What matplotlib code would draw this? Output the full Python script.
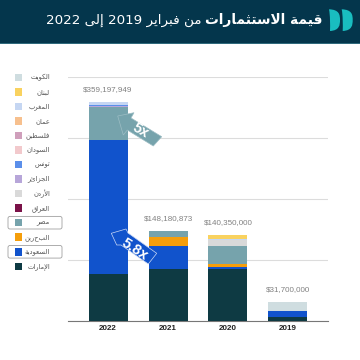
import matplotlib
matplotlib.use("Agg")
import matplotlib.pyplot as plt
from matplotlib.patches import Rectangle, FancyBboxPatch, Polygon, PathPatch
from matplotlib.path import Path

ARABIC_FAMILY = ['DejaVu Sans']
plt.rcParams['font.family'] = ['DejaVu Sans', 'Liberation Sans']

# (isolated, final, initial, medial); two entries = joins only to the previous letter
FORMS = {
    'ا': (0xFE8D, 0xFE8E), 'أ': (0xFE83, 0xFE84), 'إ': (0xFE87, 0xFE88),
    'د': (0xFEA9, 0xFEAA), 'ر': (0xFEAD, 0xFEAE), 'ز': (0xFEAF, 0xFEB0),
    'و': (0xFEED, 0xFEEE), 'ة': (0xFE93, 0xFE94), 'ى': (0xFEEF, 0xFEF0),
    'ب': (0xFE8F, 0xFE90, 0xFE91, 0xFE92), 'ت': (0xFE95, 0xFE96, 0xFE97, 0xFE98),
    'ث': (0xFE99, 0xFE9A, 0xFE9B, 0xFE9C), 'ج': (0xFE9D, 0xFE9E, 0xFE9F, 0xFEA0),
    'س': (0xFEB1, 0xFEB2, 0xFEB3, 0xFEB4), 'ط': (0xFEC1, 0xFEC2, 0xFEC3, 0xFEC4),
    'ص': (0xFEB9, 0xFEBA, 0xFEBB, 0xFEBC),
    'ع': (0xFEC9, 0xFECA, 0xFECB, 0xFECC), 'غ': (0xFECD, 0xFECE, 0xFECF, 0xFED0),
    'ف': (0xFED1, 0xFED2, 0xFED3, 0xFED4), 'ق': (0xFED5, 0xFED6, 0xFED7, 0xFED8),
    'ك': (0xFED9, 0xFEDA, 0xFEDB, 0xFEDC), 'ل': (0xFEDD, 0xFEDE, 0xFEDF, 0xFEE0),
    'م': (0xFEE1, 0xFEE2, 0xFEE3, 0xFEE4), 'ن': (0xFEE5, 0xFEE6, 0xFEE7, 0xFEE8),
    'ه': (0xFEE9, 0xFEEA, 0xFEEB, 0xFEEC), 'ي': (0xFEF1, 0xFEF2, 0xFEF3, 0xFEF4),
}
LAM_ALEF = {'ا': (0xFEFB, 0xFEFC), 'أ': (0xFEF7, 0xFEF8), 'إ': (0xFEF9, 0xFEFA)}


def shape_word(word):
    out, i, prev_joins = [], 0, False
    while i < len(word):
        ch = word[i]
        if ch == 'ل' and i + 1 < len(word) and word[i + 1] in LAM_ALEF:
            out.append(chr(LAM_ALEF[word[i + 1]][1 if prev_joins else 0]))
            prev_joins = False
            i += 2
            continue
        forms = FORMS.get(ch)
        if forms is None:
            out.append(ch)
            prev_joins = False
            i += 1
            continue
        nxt = word[i + 1] if i + 1 < len(word) else None
        next_joins = len(forms) == 4 and nxt in FORMS
        if prev_joins and next_joins:
            g = forms[3]
        elif prev_joins:
            g = forms[1]
        elif next_joins:
            g = forms[2]
        else:
            g = forms[0]
        out.append(chr(g))
        prev_joins = next_joins
        i += 1
    return ''.join(reversed(out))


def ar(text):
    words = [w if w.isdigit() else shape_word(w) for w in text.split(' ')]
    return ' '.join(reversed(words))


years = ['2022', '2021', '2020', '2019']
totals = ['$359,197,949', '$148,180,873', '$140,350,000', '$31,700,000']
countries = ['الإمارات', 'السعودية', 'البحرين', 'مصر', 'العراق', 'الأردن', 'الجزائر',
             'تونس', 'السودان', 'فلسطين', 'عمان', 'المغرب', 'لبنان', 'الكويت']
colors = ['#0E3A43', '#1153CC', '#F59E0B', '#76A3AC', '#7A1248', '#D9D9D9', '#B7A6D9',
          '#5B8FEA', '#F2C9CC', '#CF9FBB', '#F7C08E', '#C5D6F2', '#F9D25F', '#CFDDE0']
# values in millions of USD, stacked bottom to top
values = {
    'الإمارات': [77, 85, 85.7, 7.3],
    'السعودية': [219.7, 38.4, 2.3, 8.7],
    'البحرين':  [0, 14.3, 5.4, 0],
    'مصر':      [54.1, 10.3, 30, 0],
    'العراق':   [0, 0, 0, 0],
    'الأردن':   [0, 0, 10, 0],
    'الجزائر':  [1.2, 0, 0, 0],
    'تونس':     [2, 0, 0, 0],
    'السودان':  [0, 0, 0, 0],
    'فلسطين':   [0, 0, 0, 0],
    'عمان':     [0, 0, 0, 0],
    'المغرب':   [5.2, 0, 1.5, 0],
    'لبنان':    [0, 0, 5.45, 0],
    'الكويت':   [0, 0.18, 0, 15.7],
}
yticks = [0, 100, 200, 300, 400]
title_bold = 'قيمة الاستثمارات'
title_rest = 'من فبراير 2019 إلى 2022'

fig = plt.figure(figsize=(3.6, 3.6), dpi=100)

# Chart
ax = fig.add_axes([68/360, 1 - 321/360, 260/360, 244/360])
ax.set_facecolor('none')
xs = list(range(len(years)))
bottom = [0.0] * 4
for name, c in zip(countries, colors):
    v = values[name]
    ax.bar(xs, v, 0.65, bottom=bottom, color=c, edgecolor='none', zorder=3)
    bottom = [b + x for b, x in zip(bottom, v)]
for i, t in enumerate(totals):
    ax.text(i, bottom[i] + 20.5, t, ha='center', va='center', fontsize=5.8, color='#808080',
            family=['Liberation Sans'])
ax.set_xlim(-0.667, 3.667)
ax.set_ylim(0, 400)
ax.set_yticks(yticks)
ax.tick_params(axis='y', left=False, labelleft=False)
ax.tick_params(axis='x', length=0, pad=3)
ax.set_xticks(xs)
ax.set_xticklabels(years, fontsize=5.8, fontweight='bold', color='#222222', family=['Liberation Sans'])
ax.grid(axis='y', color='#DCDCDC', lw=0.8, zorder=0)
ax.set_axisbelow(True)
for s in ['top', 'left', 'right']:
    ax.spines[s].set_visible(False)
ax.spines['bottom'].set_color('#777777')
ax.spines['bottom'].set_linewidth(0.8)

# Overlay in pixel coordinates
ov = fig.add_axes([0, 0, 1, 1], zorder=10)
ov.set_xlim(0, 360); ov.set_ylim(360, 0); ov.axis('off'); ov.patch.set_alpha(0)

# Header
ov.add_patch(Rectangle((0, 0), 360, 43, color='#04364C', lw=0))
ov.add_patch(Rectangle((0, 42.5), 360, 1.2, color='#2F6A7C', lw=0))
ov.text(322.5, 20, ar(title_bold), color='white', fontsize=9.9, fontweight='bold',
        ha='right', va='center', family=ARABIC_FAMILY)
ov.text(201.5, 20, ar(title_rest), color='white', fontsize=9.7,
        ha='right', va='center', family=ARABIC_FAMILY)
for x0, w in [(329, 11), (341.7, 11)]:
    verts = [(x0, 9.3), (x0 + w * 0.95, 9.6), (x0 + w, 15), (x0 + w, 20), (x0 + w, 25), (x0 + w * 0.95, 30.5),
             (x0 + 1, 31), (x0 + 1.2, 25), (x0 + 1.2, 15), (x0, 9.3)]
    codes = [Path.MOVETO, Path.CURVE4, Path.CURVE4, Path.CURVE4, Path.CURVE4, Path.CURVE4, Path.CURVE4,
             Path.CURVE4, Path.CURVE4, Path.CURVE4]
    ov.add_patch(PathPatch(Path(verts, codes), fc='#19BDC0', ec='none'))

# Legend (top to bottom = reversed stack order)
for i, (name, c) in enumerate(zip(countries[::-1], colors[::-1])):
    y = 77.3 + i * 14.54
    ov.add_patch(Rectangle((14.6, y - 3.8), 7.8, 7.6, color=c, lw=0))
    ov.text(50, y, ar(name), ha='right', va='center', fontsize=4.9, color='#555555',
            family=ARABIC_FAMILY)
    if name in ('مصر', 'السعودية'):
        ov.add_patch(FancyBboxPatch((8, y - 6.3), 54, 12.6, boxstyle='round,pad=0,rounding_size=2',
                                    fc='none', ec='#A0A0A0', lw=0.6))

# Arrows
ov.add_patch(Polygon([(117.7, 116), (134, 112.7), (131, 118), (161.7, 136.7), (153.3, 146), (127.3, 130), (123.3, 135)],
                     closed=True, fc='#76A3AC', ec='#9DBDC4', lw=0.5, zorder=5))
ov.text(140.7, 131, '5x', color='white', fontsize=10.5, fontweight='bold', rotation=-30,
        ha='center', va='center', zorder=6, family=['Liberation Sans'], rotation_mode='anchor')
ov.add_patch(Polygon([(111.3, 233.3), (126, 229), (128, 233), (156.7, 253.3), (148.3, 264), (121, 245), (116.7, 245)],
                     closed=True, fc='#1153CC', ec='#C9D8F5', lw=0.5, zorder=5))
ov.text(135, 249, '5.8x', color='white', fontsize=10.5, fontweight='bold', rotation=-33,
        ha='center', va='center', zorder=6, family=['Liberation Sans'], rotation_mode='anchor')

fig.savefig('out.png', dpi=100)
